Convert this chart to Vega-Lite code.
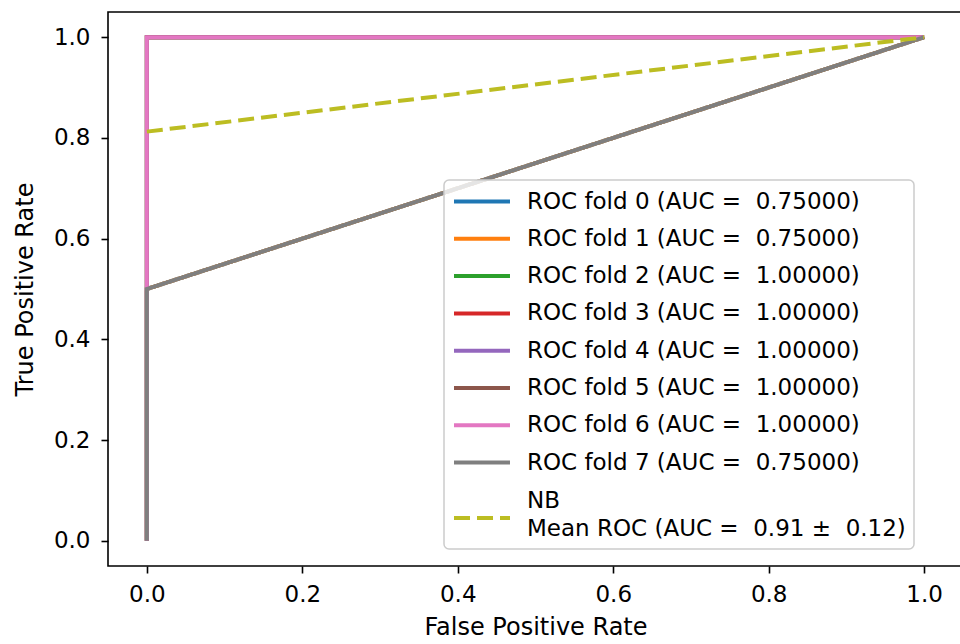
{
  "$schema": "https://vega.github.io/schema/vega-lite/v6.json",
  "width": 855,
  "height": 554,
  "autosize": "none",
  "padding": {"left": 108, "top": 12, "right": 0, "bottom": 78},
  "background": "white",
  "config": {
    "font": "DejaVu Sans",
    "view": {"stroke": "black", "strokeWidth": 1.6},
    "axis": {
      "grid": false,
      "domain": false,
      "tickColor": "black",
      "tickWidth": 1.6,
      "tickSize": 7,
      "labelFont": "DejaVu Sans",
      "labelFontSize": 23,
      "labelColor": "black",
      "titleFont": "DejaVu Sans",
      "titleFontSize": 24,
      "titleFontWeight": "normal",
      "titleColor": "black"
    },
    "legend": {
      "padding": 7.5,
      "rowPadding": 11.3,
      "symbolType": "M-0.958,0H3.708",
      "symbolSize": 576,
      "symbolStrokeWidth": 4,
      "labelFont": "DejaVu Sans",
      "labelFontSize": 23,
      "labelColor": "black",
      "labelOffset": 47.5,
      "labelLimit": 600,
      "strokeColor": "#cccccc",
      "strokeWidth": 1.5,
      "fillColor": "rgba(255,255,255,0.8)",
      "cornerRadius": 5
    }
  },
  "datasets": {
    "folds": [
      {"series": "ROC fold 0 (AUC =\u00a0 0.75000)", "i": 0, "fpr": 0, "tpr": 0},
      {"series": "ROC fold 0 (AUC =\u00a0 0.75000)", "i": 1, "fpr": 0, "tpr": 0.5},
      {"series": "ROC fold 0 (AUC =\u00a0 0.75000)", "i": 2, "fpr": 1, "tpr": 1},
      {"series": "ROC fold 1 (AUC =\u00a0 0.75000)", "i": 0, "fpr": 0, "tpr": 0},
      {"series": "ROC fold 1 (AUC =\u00a0 0.75000)", "i": 1, "fpr": 0, "tpr": 0.5},
      {"series": "ROC fold 1 (AUC =\u00a0 0.75000)", "i": 2, "fpr": 1, "tpr": 1},
      {"series": "ROC fold 2 (AUC =\u00a0 1.00000)", "i": 0, "fpr": 0, "tpr": 0},
      {"series": "ROC fold 2 (AUC =\u00a0 1.00000)", "i": 1, "fpr": 0, "tpr": 1},
      {"series": "ROC fold 2 (AUC =\u00a0 1.00000)", "i": 2, "fpr": 1, "tpr": 1},
      {"series": "ROC fold 3 (AUC =\u00a0 1.00000)", "i": 0, "fpr": 0, "tpr": 0},
      {"series": "ROC fold 3 (AUC =\u00a0 1.00000)", "i": 1, "fpr": 0, "tpr": 1},
      {"series": "ROC fold 3 (AUC =\u00a0 1.00000)", "i": 2, "fpr": 1, "tpr": 1},
      {"series": "ROC fold 4 (AUC =\u00a0 1.00000)", "i": 0, "fpr": 0, "tpr": 0},
      {"series": "ROC fold 4 (AUC =\u00a0 1.00000)", "i": 1, "fpr": 0, "tpr": 1},
      {"series": "ROC fold 4 (AUC =\u00a0 1.00000)", "i": 2, "fpr": 1, "tpr": 1},
      {"series": "ROC fold 5 (AUC =\u00a0 1.00000)", "i": 0, "fpr": 0, "tpr": 0},
      {"series": "ROC fold 5 (AUC =\u00a0 1.00000)", "i": 1, "fpr": 0, "tpr": 1},
      {"series": "ROC fold 5 (AUC =\u00a0 1.00000)", "i": 2, "fpr": 1, "tpr": 1},
      {"series": "ROC fold 6 (AUC =\u00a0 1.00000)", "i": 0, "fpr": 0, "tpr": 0},
      {"series": "ROC fold 6 (AUC =\u00a0 1.00000)", "i": 1, "fpr": 0, "tpr": 1},
      {"series": "ROC fold 6 (AUC =\u00a0 1.00000)", "i": 2, "fpr": 1, "tpr": 1},
      {"series": "ROC fold 7 (AUC =\u00a0 0.75000)", "i": 0, "fpr": 0, "tpr": 0},
      {"series": "ROC fold 7 (AUC =\u00a0 0.75000)", "i": 1, "fpr": 0, "tpr": 0.5},
      {"series": "ROC fold 7 (AUC =\u00a0 0.75000)", "i": 2, "fpr": 1, "tpr": 1}
    ],
    "mean": [
      {"series": "NB Mean ROC (AUC =\u00a0 0.91 ±\u00a0 0.12)", "i": 0, "fpr": 0, "tpr": 0.8125},
      {"series": "NB Mean ROC (AUC =\u00a0 0.91 ±\u00a0 0.12)", "i": 1, "fpr": 1, "tpr": 1}
    ]
  },
  "encoding": {
    "x": {
      "field": "fpr",
      "type": "quantitative",
      "title": "False Positive Rate",
      "scale": {"domain": [-0.05, 1.05], "nice": false, "zero": false},
      "axis": {"values": [0, 0.2, 0.4, 0.6, 0.8, 1.0], "format": ".1f", "labelPadding": 10, "titlePadding": 9}
    },
    "y": {
      "field": "tpr",
      "type": "quantitative",
      "title": "True Positive Rate",
      "scale": {"domain": [-0.05, 1.05], "nice": false, "zero": false},
      "axis": {"values": [0, 0.2, 0.4, 0.6, 0.8, 1.0], "format": ".1f", "labelPadding": 11, "titlePadding": 16}
    },
    "order": {"field": "i", "type": "quantitative"},
    "color": {
      "field": "series",
      "type": "nominal",
      "scale": {
        "domain": [
          "ROC fold 0 (AUC =\u00a0 0.75000)",
          "ROC fold 1 (AUC =\u00a0 0.75000)",
          "ROC fold 2 (AUC =\u00a0 1.00000)",
          "ROC fold 3 (AUC =\u00a0 1.00000)",
          "ROC fold 4 (AUC =\u00a0 1.00000)",
          "ROC fold 5 (AUC =\u00a0 1.00000)",
          "ROC fold 6 (AUC =\u00a0 1.00000)",
          "ROC fold 7 (AUC =\u00a0 0.75000)",
          "NB Mean ROC (AUC =\u00a0 0.91 ±\u00a0 0.12)"
        ],
        "range": ["#1f77b4", "#ff7f0e", "#2ca02c", "#d62728", "#9467bd", "#8c564b", "#e377c2", "#7f7f7f", "#bcbd22"]
      },
      "legend": {
        "title": null,
        "orient": "none",
        "legendX": 336,
        "legendY": 168,
        "labelExpr": "datum.label == 'NB Mean ROC (AUC =\u00a0 0.91 ±\u00a0 0.12)' ? ['NB', '\u00a0Mean ROC (AUC =\u00a0 0.91 ±\u00a0 0.12)'] : datum.label",
        "encode": {
          "symbols": {
            "update": {
              "shape": {"signal": "datum.label == 'NB Mean ROC (AUC =\u00a0 0.91 ±\u00a0 0.12)' ? 'M-0.958,0H3.708M0,-2.0' : 'M-0.958,0H3.708'"}
            }
          },
          "labels": {
            "update": {
              "lineHeight": {"value": 28},
              "dy": {"signal": "datum.label == 'NB Mean ROC (AUC =\u00a0 0.91 ±\u00a0 0.12)' ? -17 : 0"}
            }
          }
        }
      }
    },
    "strokeDash": {
      "field": "series",
      "type": "nominal",
      "scale": {
        "domain": [
          "ROC fold 0 (AUC =\u00a0 0.75000)",
          "ROC fold 1 (AUC =\u00a0 0.75000)",
          "ROC fold 2 (AUC =\u00a0 1.00000)",
          "ROC fold 3 (AUC =\u00a0 1.00000)",
          "ROC fold 4 (AUC =\u00a0 1.00000)",
          "ROC fold 5 (AUC =\u00a0 1.00000)",
          "ROC fold 6 (AUC =\u00a0 1.00000)",
          "ROC fold 7 (AUC =\u00a0 0.75000)",
          "NB Mean ROC (AUC =\u00a0 0.91 ±\u00a0 0.12)"
        ],
        "range": [[1, 0], [1, 0], [1, 0], [1, 0], [1, 0], [1, 0], [1, 0], [1, 0], [16, 7]]
      },
      "legend": {
        "title": null,
        "orient": "none",
        "legendX": 336,
        "legendY": 168,
        "labelExpr": "datum.label == 'NB Mean ROC (AUC =\u00a0 0.91 ±\u00a0 0.12)' ? ['NB', '\u00a0Mean ROC (AUC =\u00a0 0.91 ±\u00a0 0.12)'] : datum.label",
        "encode": {
          "symbols": {
            "update": {
              "shape": {"signal": "datum.label == 'NB Mean ROC (AUC =\u00a0 0.91 ±\u00a0 0.12)' ? 'M-0.958,0H3.708M0,-2.0' : 'M-0.958,0H3.708'"}
            }
          },
          "labels": {
            "update": {
              "lineHeight": {"value": 28},
              "dy": {"signal": "datum.label == 'NB Mean ROC (AUC =\u00a0 0.91 ±\u00a0 0.12)' ? -17 : 0"}
            }
          }
        }
      }
    }
  },
  "layer": [
    {
      "data": {"name": "folds"},
      "mark": {"type": "line", "strokeWidth": 4, "strokeCap": "butt", "clip": true}
    },
    {
      "data": {"name": "mean"},
      "mark": {"type": "line", "strokeWidth": 4, "strokeCap": "butt", "clip": true}
    }
  ]
}
